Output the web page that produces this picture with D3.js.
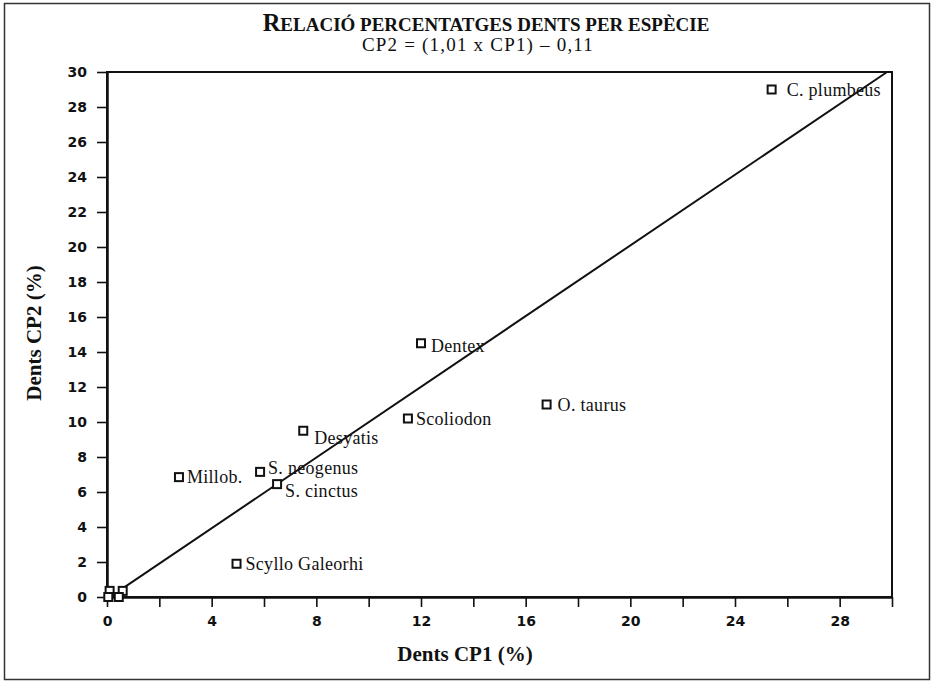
<!DOCTYPE html>
<html>
<head>
<meta charset="utf-8">
<script src="https://cdn.jsdelivr.net/npm/d3@7"></script>
<style>
  body { margin: 0; background: #fff; }
  svg { display: block; }
  .axis text { font-family: "DejaVu Sans", sans-serif; font-weight: bold; font-size: 14px; fill: #111; }
  .axis path, .axis line { stroke: #111; }
  .lbl { font-family: "Liberation Serif", "Times New Roman", serif; font-size: 18px; letter-spacing: 0.3px; fill: #111; }
</style>
</head>
<body>
<div id="chart"></div>
<script>
// data
const species = ['C. plumbeus', 'Dentex', 'O. taurus', 'Scoliodon', 'Desyatis',
                 'S. neogenus', 'Millob.', 'S. cinctus', 'Scyllo Galeorhi',
                 '', '', '', ''];
const cp1 = [25.4, 12.0, 16.8, 11.5, 7.5, 5.85, 2.75, 6.5, 4.95, 0.1, 0.6, 0.05, 0.45];
const cp2 = [29.0, 14.5, 11.0, 10.2, 9.5, 7.15, 6.85, 6.45, 1.9, 0.35, 0.35, 0.0, 0.0];
const yTicks = [0, 2, 4, 6, 8, 10, 12, 14, 16, 18, 20, 22, 24, 26, 28, 30];
const xTicks = [0, 2, 4, 6, 8, 10, 12, 14, 16, 18, 20, 22, 24, 26, 28, 30];
const xLabelled = [0, 4, 8, 12, 16, 20, 24, 28];
// fitted line CP2 = (1,01 x CP1) - 0,11
const slope = 1.01;
const intercept = -0.11;
const fitFrom = 0.6;

// label placement next to each square (dx, dy in px)
const labelOffset = {
    'C. plumbeus': [15, 0],
    'Dentex': [10, 2],
    'O. taurus': [11, 0],
    'Scoliodon': [8, 0],
    'Desyatis': [11, 7],
    'S. neogenus': [8, -4],
    'Millob.': [8, 0],
    'S. cinctus': [8, 7],
    'Scyllo Galeorhi': [9, 0]
};

const W = 933, H = 681;
const margin = { top: 72, right: 41, bottom: 84, left: 107 };
const width = W - margin.left - margin.right;
const height = H - margin.top - margin.bottom;

const svg = d3.select('#chart').append('svg')
    .attr('width', W)
    .attr('height', H);

// outer frame
svg.append('rect')
    .attr('x', 4.5).attr('y', 3.5)
    .attr('width', 925).attr('height', 676)
    .attr('fill', 'none')
    .attr('stroke', '#333')
    .attr('stroke-width', 1.5);

// title
const title = svg.append('text')
    .attr('x', 486).attr('y', 31)
    .attr('text-anchor', 'middle')
    .style('font-family', '"Liberation Serif", serif')
    .style('font-weight', 'bold')
    .attr('fill', '#111');
title.append('tspan').style('font-size', '24.5px').text('R');
title.append('tspan').style('font-size', '19px').text('ELACIÓ PERCENTATGES DENTS PER ESPÈCIE');

svg.append('text')
    .attr('x', 478).attr('y', 51)
    .attr('text-anchor', 'middle')
    .style('font-family', '"Liberation Serif", serif')
    .style('font-size', '19px')
    .style('letter-spacing', '1.2px')
    .attr('fill', '#111')
    .text('CP2 = (1,01 x CP1) \u2013 0,11');

const group = svg.append('g')
    .attr('transform', 'translate(' + margin.left + ',' + margin.top + ')');

const xScale = d3.scaleLinear().domain([0, 30]).range([0, width]);
const yScale = d3.scaleLinear().domain([0, 30]).range([height, 0]);

// plot box (top + right sides)
group.append('rect')
    .attr('width', width).attr('height', height)
    .attr('fill', 'none')
    .attr('stroke', '#111')
    .attr('stroke-width', 2);

const xAxis = d3.axisBottom(xScale)
    .tickValues(xTicks)
    .tickSize(10)
    .tickSizeOuter(0)
    .tickPadding(9)
    .tickFormat(d => xLabelled.includes(d) ? d : '');
const yAxis = d3.axisLeft(yScale)
    .tickValues(yTicks)
    .tickSize(10)
    .tickSizeOuter(0)
    .tickPadding(10);

const xAxisGroup = group.append('g')
    .attr('class', 'x-axis axis')
    .attr('transform', 'translate(0,' + height + ')')
    .call(xAxis);
const yAxisGroup = group.append('g')
    .attr('class', 'y-axis axis')
    .call(yAxis);
xAxisGroup.select('.domain').attr('stroke-width', 2.5);
yAxisGroup.select('.domain').attr('stroke-width', 2.5);
group.selectAll('.axis .tick line').attr('stroke-width', 1.6);

// regression line
const fitTo = (30 - intercept) / slope;
const line = d3.line().x(d => xScale(d)).y(d => yScale(slope * d + intercept));
group.append('path')
    .datum([fitFrom, fitTo])
    .attr('d', line)
    .attr('fill', 'none')
    .attr('stroke', '#111')
    .attr('stroke-width', 2);

const points = species.map((s, i) => ({ name: s, x: cp1[i], y: cp2[i] }));

group.selectAll('rect.pt')
    .data(points)
    .enter()
    .append('rect')
    .attr('class', 'pt')
    .attr('x', d => xScale(d.x) - 4)
    .attr('y', d => yScale(d.y) - 4)
    .attr('width', 8)
    .attr('height', 8)
    .attr('fill', '#fff')
    .attr('stroke', '#111')
    .attr('stroke-width', 2);

group.selectAll('text.lbl')
    .data(points.filter(d => d.name))
    .enter()
    .append('text')
    .attr('class', 'lbl')
    .attr('x', d => xScale(d.x) + labelOffset[d.name][0])
    .attr('y', d => yScale(d.y) + labelOffset[d.name][1])
    .attr('dy', '0.35em')
    .text(d => d.name);

// axis titles
svg.append('text')
    .attr('x', 465).attr('y', 661)
    .attr('text-anchor', 'middle')
    .style('font-family', '"Liberation Serif", serif')
    .style('font-weight', 'bold')
    .style('font-size', '21px')
    .attr('fill', '#111')
    .text('Dents CP1 (%)');

svg.append('text')
    .attr('transform', 'translate(41,333) rotate(-90)')
    .attr('text-anchor', 'middle')
    .style('font-family', '"Liberation Serif", serif')
    .style('font-weight', 'bold')
    .style('font-size', '21px')
    .attr('fill', '#111')
    .text('Dents CP2 (%)');
</script>
</body>
</html>
